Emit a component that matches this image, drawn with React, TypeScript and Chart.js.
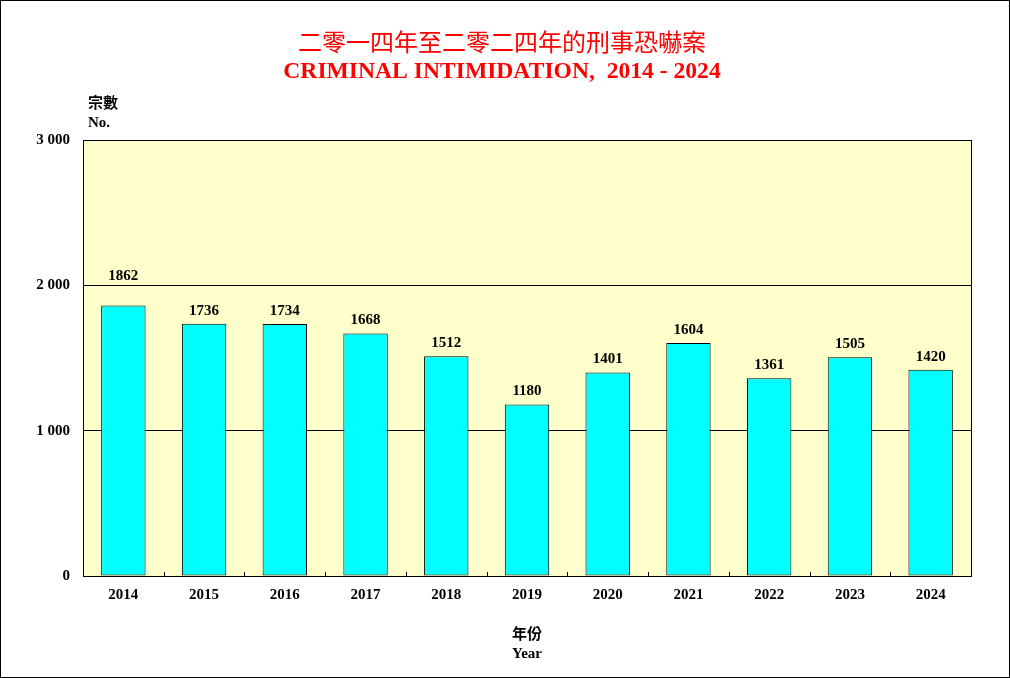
import React, { useEffect, useRef } from "react";
import { Chart, registerables } from "chart.js";

Chart.register(...registerables);

const years = ["2014", "2015", "2016", "2017", "2018", "2019", "2020", "2021", "2022", "2023", "2024"];
const cases = [1862, 1736, 1734, 1668, 1512, 1180, 1401, 1604, 1361, 1505, 1420];
const yTicks = [0, 1000, 2000, 3000];
const titleZh = "二零一四年至二零二四年的刑事恐嚇案";
const titleEn = "CRIMINAL INTIMIDATION,  2014 - 2024";
const yTitleZh = "宗數";
const yTitleEn = "No.";
const xTitleZh = "年份";
const xTitleEn = "Year";

const SERIF = '"Liberation Serif", "Times New Roman", serif';
const CJK = '"Noto Sans CJK TC", "Noto Sans CJK SC", sans-serif';

const fmt = (v: number) => {
  const s = String(v);
  return s.length > 3 ? s.slice(0, -3) + " " + s.slice(-3) : s;
};

const decor = {
  id: "decor",
  beforeDraw(chart: any) {
    const { ctx, chartArea: a } = chart;
    ctx.save();
    ctx.fillStyle = "#ffffff";
    ctx.fillRect(0, 0, chart.width, chart.height);
    ctx.fillStyle = "#FFFFCC";
    ctx.fillRect(a.left, a.top, a.right - a.left, a.bottom - a.top);
    ctx.restore();
  },
  afterDraw(chart: any) {
    const { ctx, chartArea: a, scales } = chart;
    const ys = scales.y;
    ctx.save();
    // outer frame
    ctx.strokeStyle = "#000";
    ctx.lineWidth = 1;
    ctx.strokeRect(0.5, 0.5, chart.width - 1, chart.height - 1);
    // plot border
    ctx.strokeRect(Math.round(a.left) + 0.5, Math.round(a.top) + 0.5, Math.round(a.right - a.left), Math.round(a.bottom - a.top));
    // category boundary ticks (inward)
    const n = years.length;
    const w = (a.right - a.left) / n;
    ctx.beginPath();
    for (let i = 1; i < n; i++) {
      const x = Math.round(a.left + w * i) + 0.5;
      ctx.moveTo(x, a.bottom);
      ctx.lineTo(x, a.bottom - 4);
    }
    ctx.stroke();

    // data labels
    ctx.fillStyle = "#000";
    ctx.font = `bold 15px ${SERIF}`;
    ctx.textAlign = "center";
    ctx.textBaseline = "middle";
    const gridYs = yTicks.map((t) => ys.getPixelForValue(t));
    const meta = chart.getDatasetMeta(0);
    meta.data.forEach((bar: any, i: number) => {
      let cy = bar.y - 13;
      const top = cy - 6;
      const bottom = cy + 6;
      for (const gy of gridYs) {
        if (gy >= top - 6 && gy <= bottom + 2) {
          cy = gy - 9;
        }
      }
      ctx.fillText(String(cases[i]), bar.x, cy);
    });

    // titles
    ctx.fillStyle = "#FF0000";
    ctx.font = `24px ${CJK}`;
    ctx.fillText(titleZh, 502, 42);
    ctx.font = `bold 23.6px ${SERIF}`;
    ctx.fillText(titleEn, 502, 72);

    // axis titles
    ctx.fillStyle = "#000";
    ctx.textAlign = "left";
    ctx.font = `bold 15px ${CJK}`;
    ctx.fillText(yTitleZh, 88, 102);
    ctx.font = `bold 15px ${SERIF}`;
    ctx.fillText(yTitleEn, 88, 123);
    ctx.textAlign = "center";
    const cx = (a.left + a.right) / 2;
    ctx.font = `bold 15px ${CJK}`;
    ctx.fillText(xTitleZh, cx, 633);
    ctx.font = `bold 15px ${SERIF}`;
    ctx.fillText(xTitleEn, cx, 654);
    ctx.restore();
  },
};

export default function App() {
  const ref = useRef<HTMLCanvasElement | null>(null);
  useEffect(() => {
    if (!ref.current) return;
    const chart = new Chart(ref.current, {
      type: "bar",
      data: {
        labels: years,
        datasets: [
          {
            data: cases,
            backgroundColor: "#00FFFF",
            borderColor: "#000000",
            borderWidth: 1,
            borderSkipped: false,
            barPercentage: 0.55,
            categoryPercentage: 1,
          },
        ],
      },
      options: {
        animation: false,
        responsive: false,
        devicePixelRatio: 1,
        layout: { padding: { top: 140, right: 39, left: 0, bottom: 0 } },
        plugins: { legend: { display: false }, tooltip: { enabled: false }, title: { display: false } },
        scales: {
          x: {
            grid: { display: false, drawTicks: false },
            border: { display: false },
            ticks: {
              color: "#000",
              font: { family: SERIF, size: 15, weight: "bold" },
              padding: 10,
              maxRotation: 0,
            },
            afterFit: (s: any) => {
              s.height = 102;
            },
          },
          y: {
            min: 0,
            max: 3000,
            afterBuildTicks: (s: any) => {
              s.ticks = yTicks.map((v) => ({ value: v }));
            },
            grid: { color: "#000", lineWidth: 1, drawTicks: false },
            border: { display: false },
            ticks: {
              color: "#000",
              font: { family: SERIF, size: 15, weight: "bold" },
              padding: 13,
              callback: (v: any) => fmt(Number(v)),
            },
            afterFit: (s: any) => {
              s.width = 83;
            },
          },
        },
      },
      plugins: [decor],
    });
    return () => chart.destroy();
  }, []);
  return (
    <div style={{ position: "absolute", left: 0, top: 0, width: 1010, height: 678 }}>
      <canvas ref={ref} width={1010} height={678} style={{ width: 1010, height: 678, display: "block" }} />
    </div>
  );
}
